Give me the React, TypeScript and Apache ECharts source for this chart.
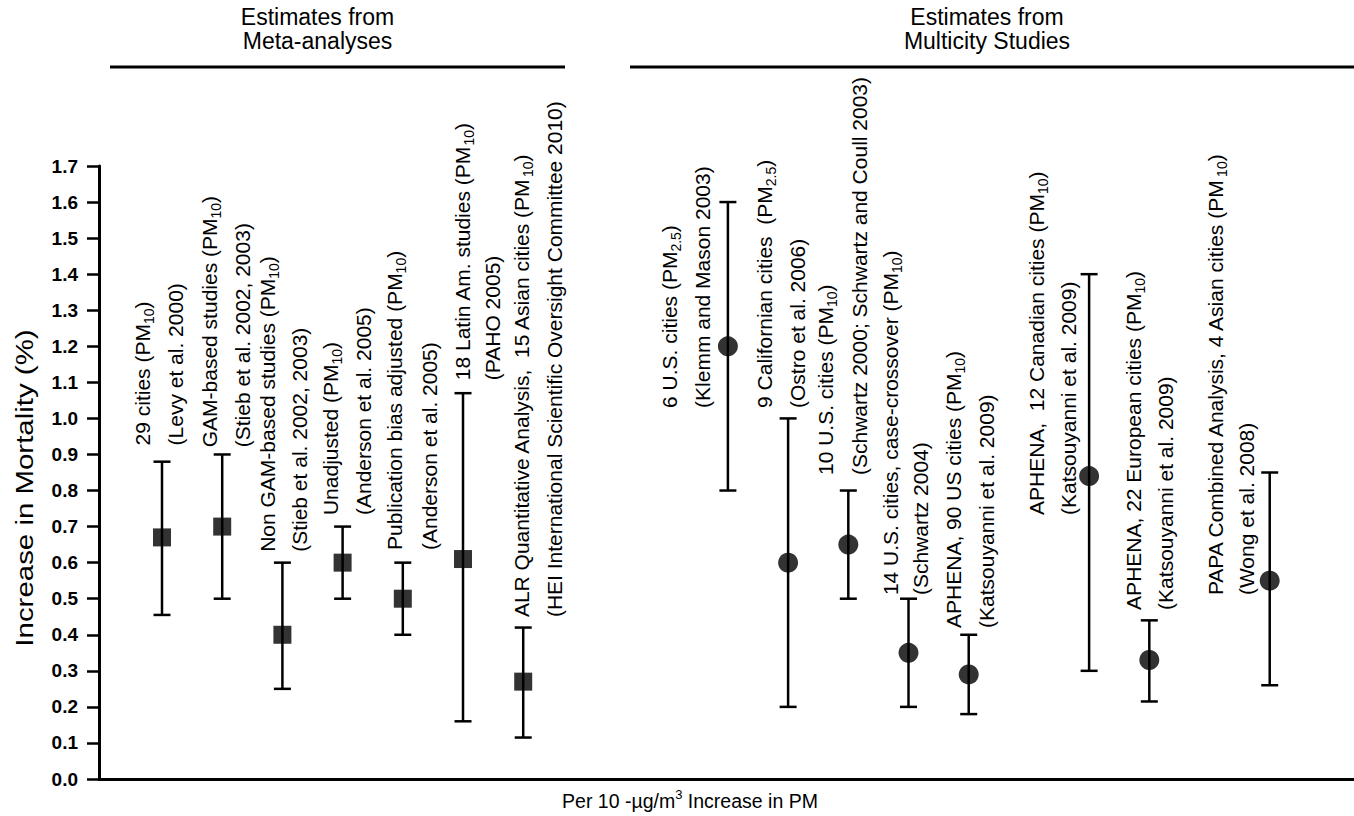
import React, { useEffect, useRef } from "react";
import * as echarts from "echarts";

// ---- data ----
const positions = [1, 2, 3, 4, 5, 6, 7, 10.4, 11.4, 12.4, 13.4, 14.4, 16.4, 17.4, 19.4];
const estimates = [0.67, 0.7, 0.4, 0.6, 0.5, 0.61, 0.27, 1.2, 0.6, 0.65, 0.35, 0.29, 0.84, 0.33, 0.55];
const lower = [0.455, 0.5, 0.25, 0.5, 0.4, 0.16, 0.115, 0.8, 0.2, 0.5, 0.2, 0.18, 0.3, 0.215, 0.26];
const upper = [0.88, 0.9, 0.6, 0.7, 0.6, 1.07, 0.42, 1.6, 1.0, 0.8, 0.5, 0.4, 1.4, 0.44, 0.85];
const studyType = ["meta", "meta", "meta", "meta", "meta", "meta", "meta", "multi", "multi", "multi", "multi", "multi", "multi", "multi", "multi"];
const studyLabels = [
  "29 cities (PM{s|10})",
  "GAM-based studies (PM{s|10})",
  "Non GAM-based studies (PM{s|10})",
  "Unadjusted (PM{s|10})",
  "Publication bias adjusted (PM{s|10})",
  "18 Latin Am. studies (PM{s|10})",
  "ALR Quantitative Analysis,  15 Asian cities (PM{s|10})",
  "6 U.S. cities (PM{s|2.5})",
  "9 Californian cities  (PM{s|2.5})",
  "10 U.S. cities (PM{s|10})",
  "14 U.S. cities, case-crossover (PM{s|10})",
  "APHENA, 90 US cities (PM{s|10})",
  "APHENA,  12 Canadian cities (PM{s|10})",
  "APHENA, 22 European cities (PM{s|10})",
  "PAPA Combined Analysis, 4 Asian cities (PM{s|10})",
];
const sourceLabels = [
  "(Levy et al. 2000)",
  "(Stieb et al. 2002, 2003)",
  "(Stieb et al. 2002, 2003)",
  "(Anderson et al. 2005)",
  "(Anderson et al. 2005)",
  "(PAHO 2005)",
  "(HEI International Scientific Oversight Committee 2010)",
  "(Klemm and Mason 2003)",
  "(Ostro et al. 2006)",
  "(Schwartz 2000; Schwartz and Coull 2003)",
  "(Schwartz 2004)",
  "(Katsouyanni et al. 2009)",
  "(Katsouyanni et al. 2009)",
  "(Katsouyanni et al. 2009)",
  "(Wong et al. 2008)",
];
const groupTitleTop = ["Estimates from", "Estimates from"];
const groupTitleBottom = ["Meta-analyses", "Multicity Studies"];
const yAxisTitle = "Increase in Mortality (%)";
const xAxisTitle = "Per 10 -µg/m{sup|3} Increase in PM";

// ---- label layout (not data) ----
const labelDx = [-19.5, -13, -15, -12, -8, -1, -2, -58, -24, -23, -18, -15, -53, -16, -54];
const labelGap = [33, 33, 32, 33, 35, 30, 33, 33, 33, 34, 30, 33, 32, 32, 31];
const labelBase = [0.925, 0.92, 0.63, 0.732, 0.635, 1.106, 0.449, 1.029, 1.029, 0.843, 0.51, 0.419, 0.732, 0.469, 0.51];

const FONT = "'Liberation Sans', Arial, Helvetica, sans-serif";

export default function App() {
  const ref = useRef<HTMLDivElement>(null);
  useEffect(() => {
    const chart = echarts.init(ref.current!, undefined, { renderer: "svg" });
    const idx = positions.map((_, i) => i);
    const subRich = {
      s: { fontSize: 14, lineHeight: 14, verticalAlign: "bottom", fontFamily: FONT, fill: "#000" },
    };
    const headerText = (text: string, x: number, y: number) => ({
      type: "text",
      x,
      y,
      style: {
        text,
        fill: "#000",
        fontSize: 23,
        fontFamily: FONT,
        align: "center",
        verticalAlign: "middle",
      },
    });
    const option: any = {
      animation: false,
      backgroundColor: "#fff",
      grid: { left: 99, right: 0, top: 166, bottom: 37 },
      xAxis: {
        type: "value",
        min: -0.0465,
        max: 20.8,
        axisLine: { show: true, onZero: false, lineStyle: { color: "#000", width: 3 } },
        axisTick: { show: false },
        axisLabel: { show: false },
        splitLine: { show: false },
      },
      yAxis: {
        type: "value",
        min: 0,
        max: 1.7,
        interval: 0.1,
        axisLine: { show: true, onZero: false, lineStyle: { color: "#000", width: 3 } },
        axisTick: { show: true, length: 12, lineStyle: { color: "#000", width: 2.5 } },
        axisLabel: {
          color: "#000",
          fontSize: 19,
          fontWeight: "bold",
          fontFamily: FONT,
          margin: 21,
          formatter: (v: number) => v.toFixed(1),
        },
        splitLine: { show: false },
      },
      series: [
        {
          type: "custom",
          name: "ci",
          clip: false,
          data: idx.map((i) => [positions[i], lower[i], upper[i]]),
          encode: { x: 0, y: [1, 2] },
          renderItem: (params: any, api: any) => {
            const x = api.value(0);
            const pLo = api.coord([x, api.value(1)]);
            const pHi = api.coord([x, api.value(2)]);
            const hw = 8.5;
            const st = { stroke: "#000", lineWidth: 2.5 };
            return {
              type: "group",
              children: [
                { type: "line", shape: { x1: pLo[0], y1: pLo[1], x2: pHi[0], y2: pHi[1] }, style: st },
                { type: "line", shape: { x1: pLo[0] - hw, y1: pLo[1], x2: pLo[0] + hw, y2: pLo[1] }, style: st },
                { type: "line", shape: { x1: pHi[0] - hw, y1: pHi[1], x2: pHi[0] + hw, y2: pHi[1] }, style: st },
              ],
            };
          },
        },
        {
          type: "scatter",
          name: "meta",
          symbol: "rect",
          symbolSize: 18,
          itemStyle: { color: "#000" },
          data: idx.filter((i) => studyType[i] === "meta").map((i) => [positions[i], estimates[i]]),
        },
        {
          type: "scatter",
          name: "multi",
          symbol: "circle",
          symbolSize: 20,
          itemStyle: { color: "#000" },
          data: idx.filter((i) => studyType[i] === "multi").map((i) => [positions[i], estimates[i]]),
        },
        {
          type: "custom",
          name: "labels",
          clip: false,
          silent: true,
          data: idx.map((i) => [positions[i], labelBase[i], i]),
          encode: { x: 0, y: 1 },
          renderItem: (params: any, api: any) => {
            const i = api.value(2);
            const p = api.coord([api.value(0), api.value(1)]);
            const x1 = p[0] + labelDx[i];
            const x2 = x1 + labelGap[i];
            const mk = (text: string, x: number) => ({
              type: "text",
              x,
              y: p[1],
              rotation: Math.PI / 2,
              style: {
                text,
                fill: "#000",
                fontSize: 21,
                fontFamily: FONT,
                lineHeight: 27,
                align: "left",
                verticalAlign: "middle",
                rich: subRich,
              },
            });
            return { type: "group", children: [mk(studyLabels[i], x1), mk(sourceLabels[i], x2)] };
          },
        },
      ],
      graphic: [
        headerText(groupTitleTop[0], 317.5, 17),
        headerText(groupTitleBottom[0], 317.5, 41),
        headerText(groupTitleTop[1], 987, 17),
        headerText(groupTitleBottom[1], 987, 41),
        { type: "line", shape: { x1: 110, y1: 67, x2: 565, y2: 67 }, style: { stroke: "#000", lineWidth: 3 } },
        { type: "line", shape: { x1: 630, y1: 67, x2: 1354, y2: 67 }, style: { stroke: "#000", lineWidth: 3 } },
        {
          type: "text",
          x: 25,
          y: 488,
          rotation: Math.PI / 2,
          scaleX: 1.28,
          style: {
            text: yAxisTitle,
            fill: "#000",
            fontSize: 23,
            fontFamily: FONT,
            align: "center",
            verticalAlign: "middle",
          },
        },
        {
          type: "text",
          x: 690,
          y: 801,
          style: {
            text: xAxisTitle,
            fill: "#000",
            fontSize: 19.5,
            fontFamily: FONT,
            lineHeight: 27,
            align: "center",
            verticalAlign: "middle",
            rich: { sup: { fontSize: 13, lineHeight: 13, verticalAlign: "top", fontFamily: FONT, fill: "#000" } },
          },
        },
      ],
    };
    chart.setOption(option);
    return () => chart.dispose();
  }, []);
  return (
    <div
      ref={ref}
      style={{ position: "absolute", left: 0, top: 0, width: 1354, height: 816, background: "#fff" }}
    />
  );
}
